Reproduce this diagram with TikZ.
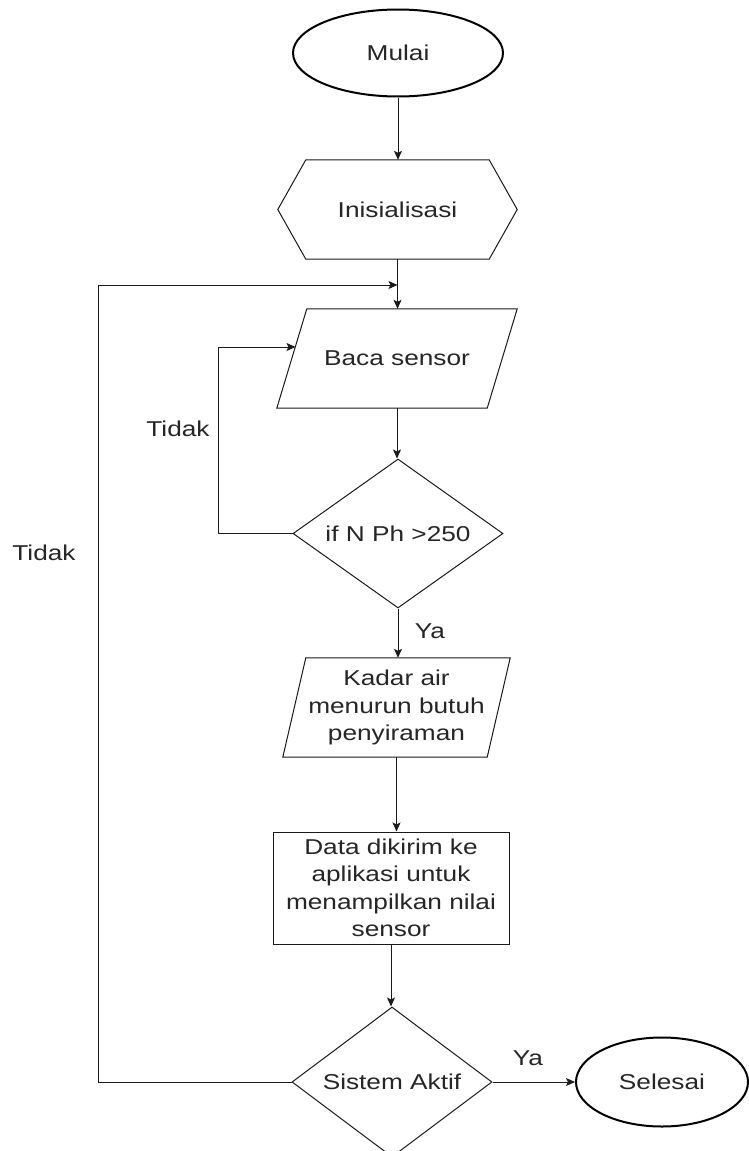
\documentclass[tikz,border=0pt]{standalone}
\usepackage{fontspec}
\setmainfont{Liberation Sans}[FakeStretch=1.22]
\usetikzlibrary{shapes.geometric,arrows.meta,calc}
\definecolor{lncol}{HTML}{1A1A1A}
\definecolor{txcol}{HTML}{262626}
\begin{document}
\begin{tikzpicture}[x=1pt,y=-1pt,
  font=\fontsize{21.5}{27.5}\selectfont, text=txcol,
  box/.style={inner sep=0pt, align=center},
  term/.style={ellipse, draw=black, line width=2pt, inner sep=0pt},
  dec/.style={diamond, draw=lncol, line width=1pt, inner sep=0pt},
  rectbox/.style={rectangle, draw=lncol, line width=1pt, inner sep=0pt, align=center},
  arr/.style={draw=lncol, line width=1pt, -{Stealth[length=9pt,width=8pt,inset=2pt]}},
  outl/.style={draw=lncol, line width=1pt, line join=miter},
  lbl/.style={inner sep=0pt}]
\fill[white] (0,0) rectangle (749,1151);
\useasboundingbox (0,0) rectangle (749,1151);

% nodes
\node[term, minimum width=210pt, minimum height=87pt] (mulai) at (398,53) {Mulai};

\node[box, minimum width=239pt, minimum height=99pt] (ini) at (397.5,209.5) {Inisialisasi};
\draw[outl] (ini.west) -- ($(ini.north west)+(28pt,0pt)$) -- ($(ini.north east)+(-28pt,0pt)$)
  -- (ini.east) -- ($(ini.south east)+(-28pt,0pt)$) -- ($(ini.south west)+(28pt,0pt)$) -- cycle;

\node[box, minimum width=240pt, minimum height=99pt] (baca) at (397,358.5) {Baca sensor};
\draw[outl] (baca.south west) -- ($(baca.north west)+(30pt,0pt)$) -- (baca.north east)
  -- ($(baca.south east)+(-30pt,0pt)$) -- cycle;

\node[dec, minimum width=210pt, minimum height=149pt, aspect=1.41] (d1) at (398,533.5) {if N Ph >250};

\node[box, minimum width=227pt, minimum height=99pt] (kadar) at (396.5,707.5) {Kadar air\\menurun butuh\\penyiraman};
\draw[outl] (kadar.south west) -- ($(kadar.north west)+(23pt,0pt)$) -- (kadar.north east)
  -- ($(kadar.south east)+(-23pt,0pt)$) -- cycle;

\node[rectbox, minimum width=236pt, minimum height=112pt] (data) at (391,888)
  {Data dikirim ke\\aplikasi untuk\\menampilkan nilai\\sensor};

\node[dec, minimum width=200pt, minimum height=150pt, aspect=1.33] (d2) at (392,1082) {Sistem Aktif};

\node[term, minimum width=172pt, minimum height=89pt] (sel) at (662,1082) {Selesai};

% labels
\node[lbl] (ya1) at (430,631) {Ya};
\node[lbl] (ya2) at (528,1058) {Ya};
\node[lbl] (t1) at (178,429) {Tidak};
\node[lbl] (t2) at (44,553) {Tidak};

% helper coordinates
\coordinate (top) at (397.5,285);
\coordinate (lp) at (98,285);
\coordinate (ip) at (218,347);
\coordinate (bin) at (295.5,347);

% connectors
\draw[arr] (mulai.south) -- (mulai.south |- ini.north);
\draw[arr] (ini.south) -- (ini.south |- baca.north);
\draw[arr] (d2.west) -| (lp) -- (top);
\draw[arr] (baca.south) -- (baca.south |- d1.north);
\draw[arr] (d1.west) -| (ip) -- (bin);
\draw[arr] (d1.south) -- (d1.south |- kadar.north);
\draw[arr] (kadar.south) -- (kadar.south |- data.north);
\draw[arr] (data.south) -- (data.south |- d2.north);
\draw[arr] (d2.east) -- (sel.west);
\end{tikzpicture}
\end{document}
